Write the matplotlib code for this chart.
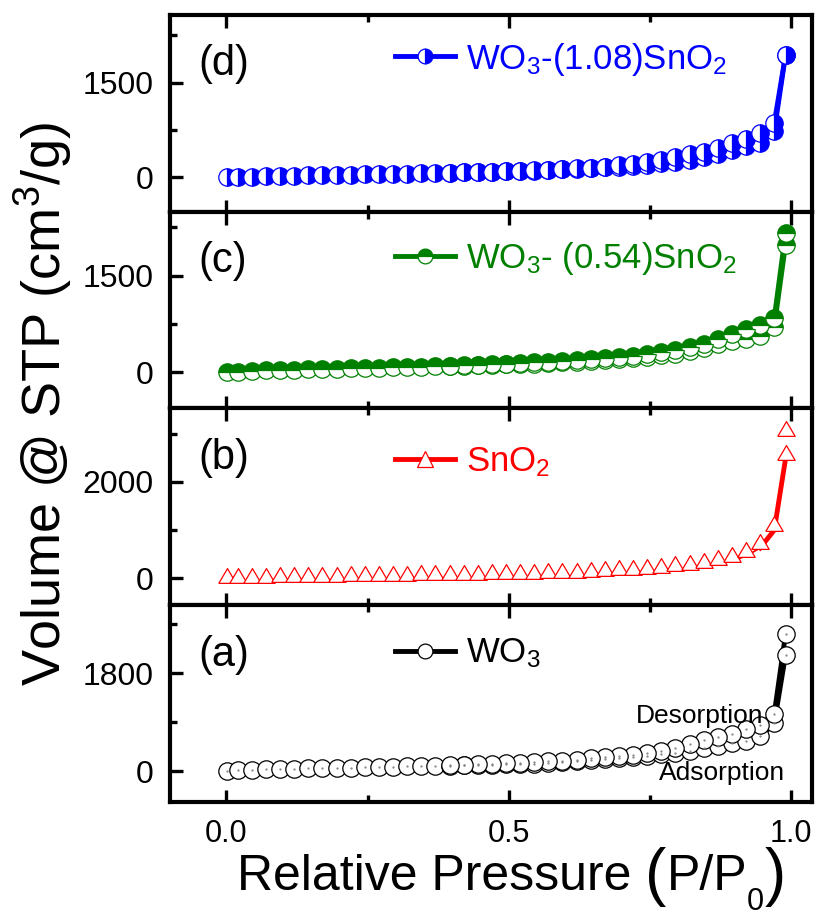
import numpy as np
import matplotlib
matplotlib.use("Agg")
import matplotlib.pyplot as plt
from matplotlib.lines import Line2D
from matplotlib.ticker import MultipleLocator

plt.rcParams['font.family'] = ['Liberation Sans', 'DejaVu Sans']
plt.rcParams['mathtext.fontset'] = 'custom'
plt.rcParams['mathtext.rm'] = 'Liberation Sans'
plt.rcParams['mathtext.it'] = 'Liberation Sans:italic'
plt.rcParams['mathtext.bf'] = 'Liberation Sans:bold'

# relative pressure points (adsorption branch, low -> high)
p_ads = [0.001, 0.02, 0.045, 0.07, 0.095, 0.12, 0.145, 0.17, 0.195, 0.22,
         0.245, 0.27, 0.295, 0.32, 0.345, 0.37, 0.395, 0.42, 0.445, 0.47,
         0.495, 0.52, 0.545, 0.57, 0.595, 0.62, 0.645, 0.67, 0.695, 0.72,
         0.745, 0.77, 0.795, 0.82, 0.845, 0.87, 0.895, 0.92, 0.945, 0.97, 0.99]
# desorption branch, high -> low
p_des = [0.99, 0.97, 0.945, 0.92, 0.895, 0.87, 0.845, 0.82, 0.795, 0.77,
         0.745, 0.72, 0.695, 0.67, 0.645, 0.62, 0.595, 0.57, 0.545, 0.52,
         0.495, 0.47, 0.445, 0.42, 0.395]

# (a) WO3
wo3_ads = [0, 15, 25, 33, 40, 46, 52, 58, 63, 68, 73, 78, 83, 88, 93, 98, 103,
           108, 114, 120, 127, 134, 142, 152, 165, 180, 200, 220, 240, 265,
           290, 310, 340, 380, 420, 460, 520, 560, 640, 880, 2140]
wo3_des = [2520, 1060, 860, 785, 690, 630, 570, 500, 430, 370, 330, 300, 278,
           262, 240, 215, 198, 185, 172, 160, 150, 140, 132, 124, 116]

# (b) SnO2
sno2_ads = [-80, -75, -70, -66, -62, -58, -54, -50, -46, -42, -38, -34, -30,
            -26, -22, -18, -14, -10, -6, -2, 3, 8, 13, 19, 26, 33, 47, 67, 81,
            95, 109, 130, 165, 186, 241, 290, 359, 463, 630, 1000, 2480]
sno2_des_p = [0.99]
sno2_des = [2980]

# (c) WO3-(0.54)SnO2
c054_ads = [0, 12, 22, 30, 37, 43, 49, 54, 59, 64, 69, 74, 79, 84, 89, 94, 99,
            104, 110, 116, 122, 128, 136, 144, 155, 165, 178, 190, 205, 222,
            240, 262, 290, 325, 380, 440, 484, 521, 560, 706, 1980]
c054_des = [2160, 845, 727, 665, 587, 521, 445, 390, 350, 318, 283, 255, 238,
            215, 203, 188, 177, 165, 155, 145, 136, 128, 120, 113, 106]

# (d) WO3-(1.08)SnO2
c108_ads = [0, 8, 14, 20, 25, 30, 34, 38, 42, 46, 50, 54, 58, 62, 66, 70, 74,
            79, 84, 90, 96, 103, 110, 118, 127, 137, 148, 160, 173, 188, 205,
            225, 250, 280, 318, 365, 430, 490, 545, 730, 1940]
c108_des = [1940, 860, 705, 610, 545, 470, 410, 365, 320, 280, 245, 215, 190,
            170, 155, 142, 130, 120, 112, 105, 98, 92, 86, 80, 75]

fig, axes = plt.subplots(4, 1, figsize=(8.17, 9.19), dpi=100, sharex=True,
                         gridspec_kw=dict(hspace=0))
fig.subplots_adjust(left=0.208, right=0.994, bottom=0.127, top=0.984)
ax_d, ax_c, ax_b, ax_a = axes

ms = 12.5
# open triangle sitting on its data point (base on the curve)
tri = [(-1, -0.1), (1, -0.1), (0, 1.6), (-1, -0.1)]

panels = [
    # ax, label, legend text, color, marker style, ads, des_p, des, ylim, major, legend y
    (ax_d, '(d)', r'WO$_3$-(1.08)SnO$_2$', '#0000FF',
     dict(marker='o', fillstyle='right', markerfacecoloralt='white', markersize=ms),
     c108_ads, p_des, c108_des, (-540, 2575), 1500, 0.775),
    (ax_c, '(c)', r'WO$_3$- (0.54)SnO$_2$', '#008000',
     dict(marker='o', fillstyle='top', markerfacecoloralt='white', markersize=ms),
     c054_ads, p_des, c054_des, (-560, 2490), 1500, 0.76),
    (ax_b, '(b)', r'SnO$_2$', '#FF0000',
     dict(marker=tri, markerfacecolor='white', markersize=20),
     sno2_ads, sno2_des_p, sno2_des, (-560, 3520), 2000, 0.73),
    (ax_a, '(a)', r'WO$_3$', 'black',
     dict(marker='o', markerfacecolor='white', markersize=ms),
     wo3_ads, p_des, wo3_des, (-570, 3050), 1800, 0.755),
]

for ax, lab, leg, col, mstyle, ads, dp, des, ylim, major, ly in panels:
    # connecting lines under markers
    if col == '#FF0000':
        ax.plot(p_ads, ads, '-', color=col, lw=1.3, zorder=2)
        ax.plot(p_ads[-3:], ads[-3:], '-', color=col, lw=3.5, zorder=2)
        hstyle = dict(marker='^', markerfacecolor='white', markersize=12)
    else:
        ax.plot(p_ads, ads, '-', color=col, lw=3.5, zorder=2)
        hstyle = dict(mstyle)
        hstyle['markersize'] = ms * 0.85
    if len(dp) > 1:
        ax.plot(dp, des, '-', color=col, lw=3.5, zorder=2)
    ax.plot(p_ads, ads, ls='none', color=col, markeredgecolor=col,
            markeredgewidth=0.9, zorder=3, **mstyle)
    ax.plot(dp, des, ls='none', color=col, markeredgecolor=col,
            markeredgewidth=0.9, zorder=3, **mstyle)
    if col == 'black':
        ax.plot(p_ads, ads, ls='none', marker='.', ms=1.2, color='gray', zorder=4)
        ax.plot(dp, des, ls='none', marker='.', ms=1.2, color='gray', zorder=4)

    handle = Line2D([], [], color=col, lw=3.5, markeredgecolor=col,
                    markeredgewidth=0.9, **hstyle)
    lg = ax.legend([handle], [leg], loc='center left', bbox_to_anchor=(0.35, ly),
                   frameon=False, fontsize=25, handlelength=1.75, handletextpad=0.3,
                   borderpad=0, borderaxespad=0)
    for t in lg.get_texts():
        t.set_color(col)

    ax.text(0.045, 0.75, lab, transform=ax.transAxes, fontsize=30,
            ha='left', va='center')

    ax.set_ylim(*ylim)
    ax.yaxis.set_major_locator(MultipleLocator(major))
    ax.yaxis.set_minor_locator(MultipleLocator(major / 2))
    ax.xaxis.set_major_locator(MultipleLocator(0.5))
    ax.xaxis.set_minor_locator(MultipleLocator(0.25))
    ax.tick_params(axis='both', which='both', direction='in', width=2.4, pad=12)
    ax.tick_params(axis='y', labelsize=23)
    ax.tick_params(axis='x', labelsize=22)
    ax.tick_params(axis='both', which='major', length=9)
    ax.tick_params(axis='both', which='minor', length=5)
    ax.tick_params(axis='x', which='both', top=True, bottom=True)
    ax.tick_params(axis='y', which='both', left=True, right=False)
    for sp in ax.spines.values():
        sp.set_linewidth(3)

ax_a.set_xlim(-0.1, 1.037)

ax_a.text(0.837, 1010, 'Desorption', fontsize=19, ha='center', va='center')
ax_a.text(0.878, -30, 'Adsorption', fontsize=19, ha='center', va='center')

fig.text(0.053, 0.56, r'Volume @ STP (cm$^3$/g)', rotation=90,
         fontsize=39, ha='center', va='center')

# x label with tall brackets around P/P0, pieces chained one after another
t1 = fig.text(0.29, 0.046, 'Relative Pressure ', fontsize=36,
              ha='left', va='center')
t2 = fig.add_artist(plt.Annotation('(', xy=(1, 0.5), xycoords=t1, fontsize=46,
                                   ha='left', va='center'))
t3 = fig.add_artist(plt.Annotation('P/P', xy=(1, 0.5), xycoords=t2, fontsize=36,
                                   ha='left', va='center'))
t4 = fig.add_artist(plt.Annotation('0', xy=(1, -0.05), xycoords=t3, fontsize=22,
                                   ha='left', va='center'))
t5 = fig.add_artist(plt.Annotation(')', xy=(1, 0.5), xycoords=(t4, t2), fontsize=46,
                                   ha='left', va='center'))

fig.savefig('out.png', dpi=100)
